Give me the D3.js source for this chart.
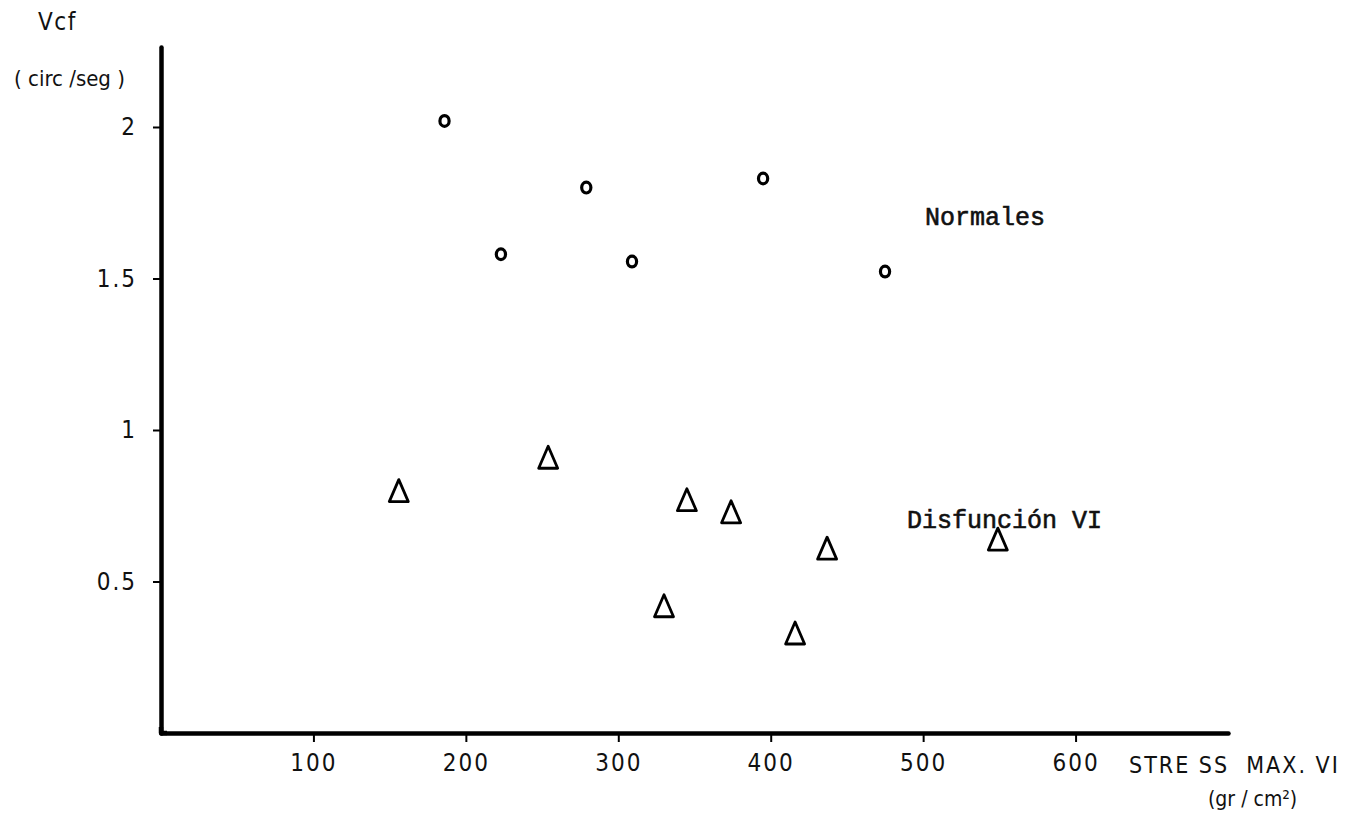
<!DOCTYPE html>
<html>
<head>
<meta charset="utf-8">
<script src="https://cdn.jsdelivr.net/npm/d3@7"></script>
<style>
  body { margin: 0; background: #fff; }
  svg { display: block; }
  .tick text, .label { font-family: "Liberation Sans Narrow", "DejaVu Sans Condensed", sans-serif; fill: #111; }
  .typed { font-family: "Liberation Mono", "Courier New", monospace; fill: #111; }
</style>
</head>
<body>
<svg id="chart" width="1359" height="820"></svg>
<script>
// Normales (circles)
var normalStress = [186, 223, 279, 309, 395, 475];
var normalVcf    = [2.02, 1.58, 1.80, 1.556, 1.83, 1.523];

// Disfuncion VI (triangles)
var dysStress = [156, 254, 345, 374, 437, 330, 416, 549];
var dysVcf    = [0.80, 0.91, 0.77, 0.73, 0.61, 0.42, 0.33, 0.64];

var xTicks = [100, 200, 300, 400, 500, 600];
var yTicks = [0.5, 1, 1.5, 2];

var svg = d3.select('#chart');

var x = d3.scaleLinear().domain([0, 700]).range([161, 1228]);
var y = d3.scaleLinear().domain([0, 2.264]).range([733, 47]);

var normals = normalStress.map(function(d, i) { return {x: d, y: normalVcf[i]}; });
var dys = dysStress.map(function(d, i) { return {x: d, y: dysVcf[i]}; });

// axes
var xAxis = svg.append('g')
  .attr('transform', 'translate(0,' + y(0) + ')')
  .call(d3.axisBottom(x).tickValues(xTicks).tickSize(9).tickSizeOuter(0).tickPadding(12)
    .tickFormat(function(d) { return d; }));

var yAxis = svg.append('g')
  .attr('transform', 'translate(' + x(0) + ',0)')
  .call(d3.axisLeft(y).tickValues(yTicks).tickSize(8).tickSizeOuter(0).tickPadding(16)
    .tickFormat(function(d) { return d; }));

[xAxis, yAxis].forEach(function(a) {
  a.select('.domain')
    .style('stroke', '#000')
    .style('stroke-width', 4.5)
    .style('stroke-linecap', 'round');
  a.selectAll('.tick line').style('stroke', '#000').style('stroke-width', 2);
  a.selectAll('.tick text').style('font-size', '24px').style('letter-spacing', '2px');
});

// corner join
svg.append('path')
  .attr('d', 'M' + x(0) + ',' + (y(0) - 6) + 'L' + x(0) + ',' + y(0) + 'L' + (x(0) + 6) + ',' + y(0))
  .style('fill', 'none')
  .style('stroke', '#000')
  .style('stroke-width', 4.5)
  .style('stroke-linejoin', 'round');

// axis titles
svg.append('text').attr('class', 'label')
  .attr('x', 38).attr('y', 30)
  .style('font-size', '24px')
  .style('letter-spacing', '1.5px')
  .text('Vcf');

svg.append('text').attr('class', 'label')
  .attr('x', 14).attr('y', 86)
  .style('font-size', '22px')
  .attr('xml:space', 'preserve')
  .text('( circ /seg )');

svg.append('text').attr('class', 'label')
  .attr('x', 1129).attr('y', 773)
  .style('font-size', '23px')
  .style('letter-spacing', '2px')
  .attr('xml:space', 'preserve')
  .text('STRE SS  MAX. VI');

svg.append('text').attr('class', 'label')
  .attr('x', 1208).attr('y', 806)
  .style('font-size', '21px')
  .attr('xml:space', 'preserve')
  .text('(gr / cm\u00b2)');

// points
svg.append('g').selectAll('ellipse')
  .data(normals)
  .enter().append('ellipse')
    .attr('cx', function(d) { return x(d.x); })
    .attr('cy', function(d) { return y(d.y); })
    .attr('rx', 4.6)
    .attr('ry', 5.4)
    .style('fill', 'none')
    .style('stroke', '#000')
    .style('stroke-width', 3.2);

var triW = 19, triH = 22;
svg.append('g').selectAll('path')
  .data(dys)
  .enter().append('path')
    .attr('transform', function(d) { return 'translate(' + x(d.x) + ',' + y(d.y) + ')'; })
    .attr('d', 'M0,' + (-triH / 2) + 'L' + (triW / 2) + ',' + (triH / 2) + 'L' + (-triW / 2) + ',' + (triH / 2) + 'Z')
    .style('fill', 'none')
    .style('stroke', '#000')
    .style('stroke-width', 2.8)
    .style('stroke-linejoin', 'round');

// group labels (typewritten)
svg.append('text').attr('class', 'typed')
  .attr('x', 925).attr('y', 225)
  .style('font-size', '25px')
  .style('stroke', '#111').style('stroke-width', 0.6)
  .text('Normales');

svg.append('text').attr('class', 'typed')
  .attr('x', 907).attr('y', 528)
  .style('font-size', '25px')
  .style('stroke', '#111').style('stroke-width', 0.6)
  .text('Disfunción VI');
</script>
</body>
</html>
